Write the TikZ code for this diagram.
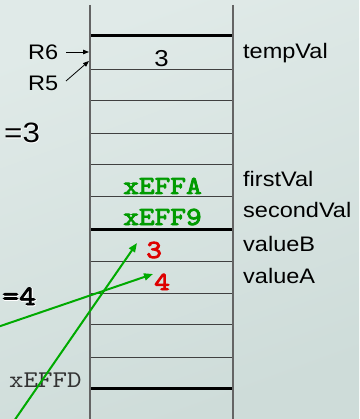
\documentclass[tikz,border=0pt]{standalone}
\usepackage{fontspec}
\setmainfont[FakeStretch=1.12]{Liberation Sans}
\newfontfamily\courb[FakeBold=3.2,FakeStretch=1.15]{lmmono10-regular.otf}
\newfontfamily\courr[FakeStretch=1.15]{lmmono10-regular.otf}
\usetikzlibrary{arrows.meta}
\definecolor{bgA}{RGB}{224,234,232}
\definecolor{bgB}{RGB}{206,220,217}
\definecolor{vgreen}{RGB}{0,155,0}
\definecolor{agreen}{RGB}{0,170,0}
\definecolor{vred}{RGB}{222,0,0}
\definecolor{vline}{RGB}{100,100,100}
\tikzset{
  lbl/.style={anchor=base west, inner sep=0pt, font=\fontsize{21}{21}\selectfont},
  greenval/.style={anchor=base, inner sep=0pt, text=vgreen, font=\courb\fontsize{26}{26}\selectfont},
  redval/.style={anchor=base west, inner sep=0pt, text=vred, font=\courb\fontsize{26}{26}\selectfont},
  thinrow/.style={draw=black!75, line width=0.8pt},
  thickrow/.style={draw=black, line width=3pt},
  wall/.style={draw=vline, line width=1.4pt},
  ptr/.style={-{Triangle[length=6pt,width=4.5pt]}, line width=0.8pt},
  garrow/.style={agreen, line width=2pt, -{Triangle[length=9pt,width=7pt]}}
}
\begin{document}
\begin{tikzpicture}[x=1pt,y=-1pt]
\useasboundingbox (0,0) rectangle (359,419);
\shade[top color=bgA, bottom color=bgB, shading angle=20] (0,0) rectangle (359,419);
\clip (0,0) rectangle (359,419);
% walls
\coordinate (wlt) at (90,5);
\coordinate (wlb) at (90,419);
\coordinate (wrt) at (233,5);
\coordinate (wrb) at (233,419);
% rows
\foreach \y in {69,100,133,164,196,261,293,324,357}
  \draw[thinrow] (90,\y) -- (233,\y);
\foreach \y in {36,229,388}
  \draw[thickrow] (90,\y) -- (233,\y);
\draw[wall] (wlt) -- (wlb);
\draw[wall] (wrt) -- (wrb);
% cell values
\node[anchor=base, inner sep=0pt, font=\fontsize{23}{23}\selectfont] (v3) at (161.5,67) {3};
\node[greenval] (fa) at (162.5,194) {xEFFA};
\node[greenval] (f9) at (162.5,225) {xEFF9};
\node[redval] (rb) at (146,258) {3};
\node[redval] (ra) at (154,290) {4};
% right labels
\node[lbl] (tv) at (243,59) {tempVal};
\node[lbl] (fv) at (243,187) {firstVal};
\node[lbl] (sv) at (243,218) {secondVal};
\node[lbl] (vb) at (243,251) {valueB};
\node[lbl] (va) at (243,283) {valueA};
% register pointers
\node[lbl] (r6) at (28,60) {R6};
\node[lbl] (r5) at (28,91) {R5};
\coordinate (r6t) at (89,52);
\coordinate (r5t) at (89,61);
\draw[ptr] (66,52) -- (r6t);
\draw[ptr] (66,81) -- (r5t);
% cut-off texts with glow
\foreach \dx/\dy in {0.9/0.9,0.9/0,0/0.9}{
  \node[anchor=base west, inner sep=0pt, text=white, font=\fontsize{28}{28}\selectfont] at (4+\dx,143+\dy) {=3};
  \node[anchor=base west, inner sep=0pt, text=white, font=\courb\fontsize{28}{28}\selectfont] at (2+\dx,305+\dy) {=4};
}
\node[anchor=base west, inner sep=0pt, font=\fontsize{28}{28}\selectfont] (e3) at (4,143) {=3};
\node[anchor=base west, inner sep=0pt, font=\courb\fontsize{28}{28}\selectfont] (e4) at (2,305) {=4};
\node[anchor=base west, inner sep=0pt, text=black!80, font=\courr\fontsize{24}{24}\selectfont] (xd) at (9,387) {xEFFD};
% green arrows
\coordinate (a1s) at (-20,333);
\coordinate (a1e) at (153,274);
\coordinate (a2s) at (5,434);
\coordinate (a2e) at (137,243);
\draw[garrow] (a1s) -- (a1e);
\draw[garrow] (a2s) -- (a2e);
\end{tikzpicture}
\end{document}
